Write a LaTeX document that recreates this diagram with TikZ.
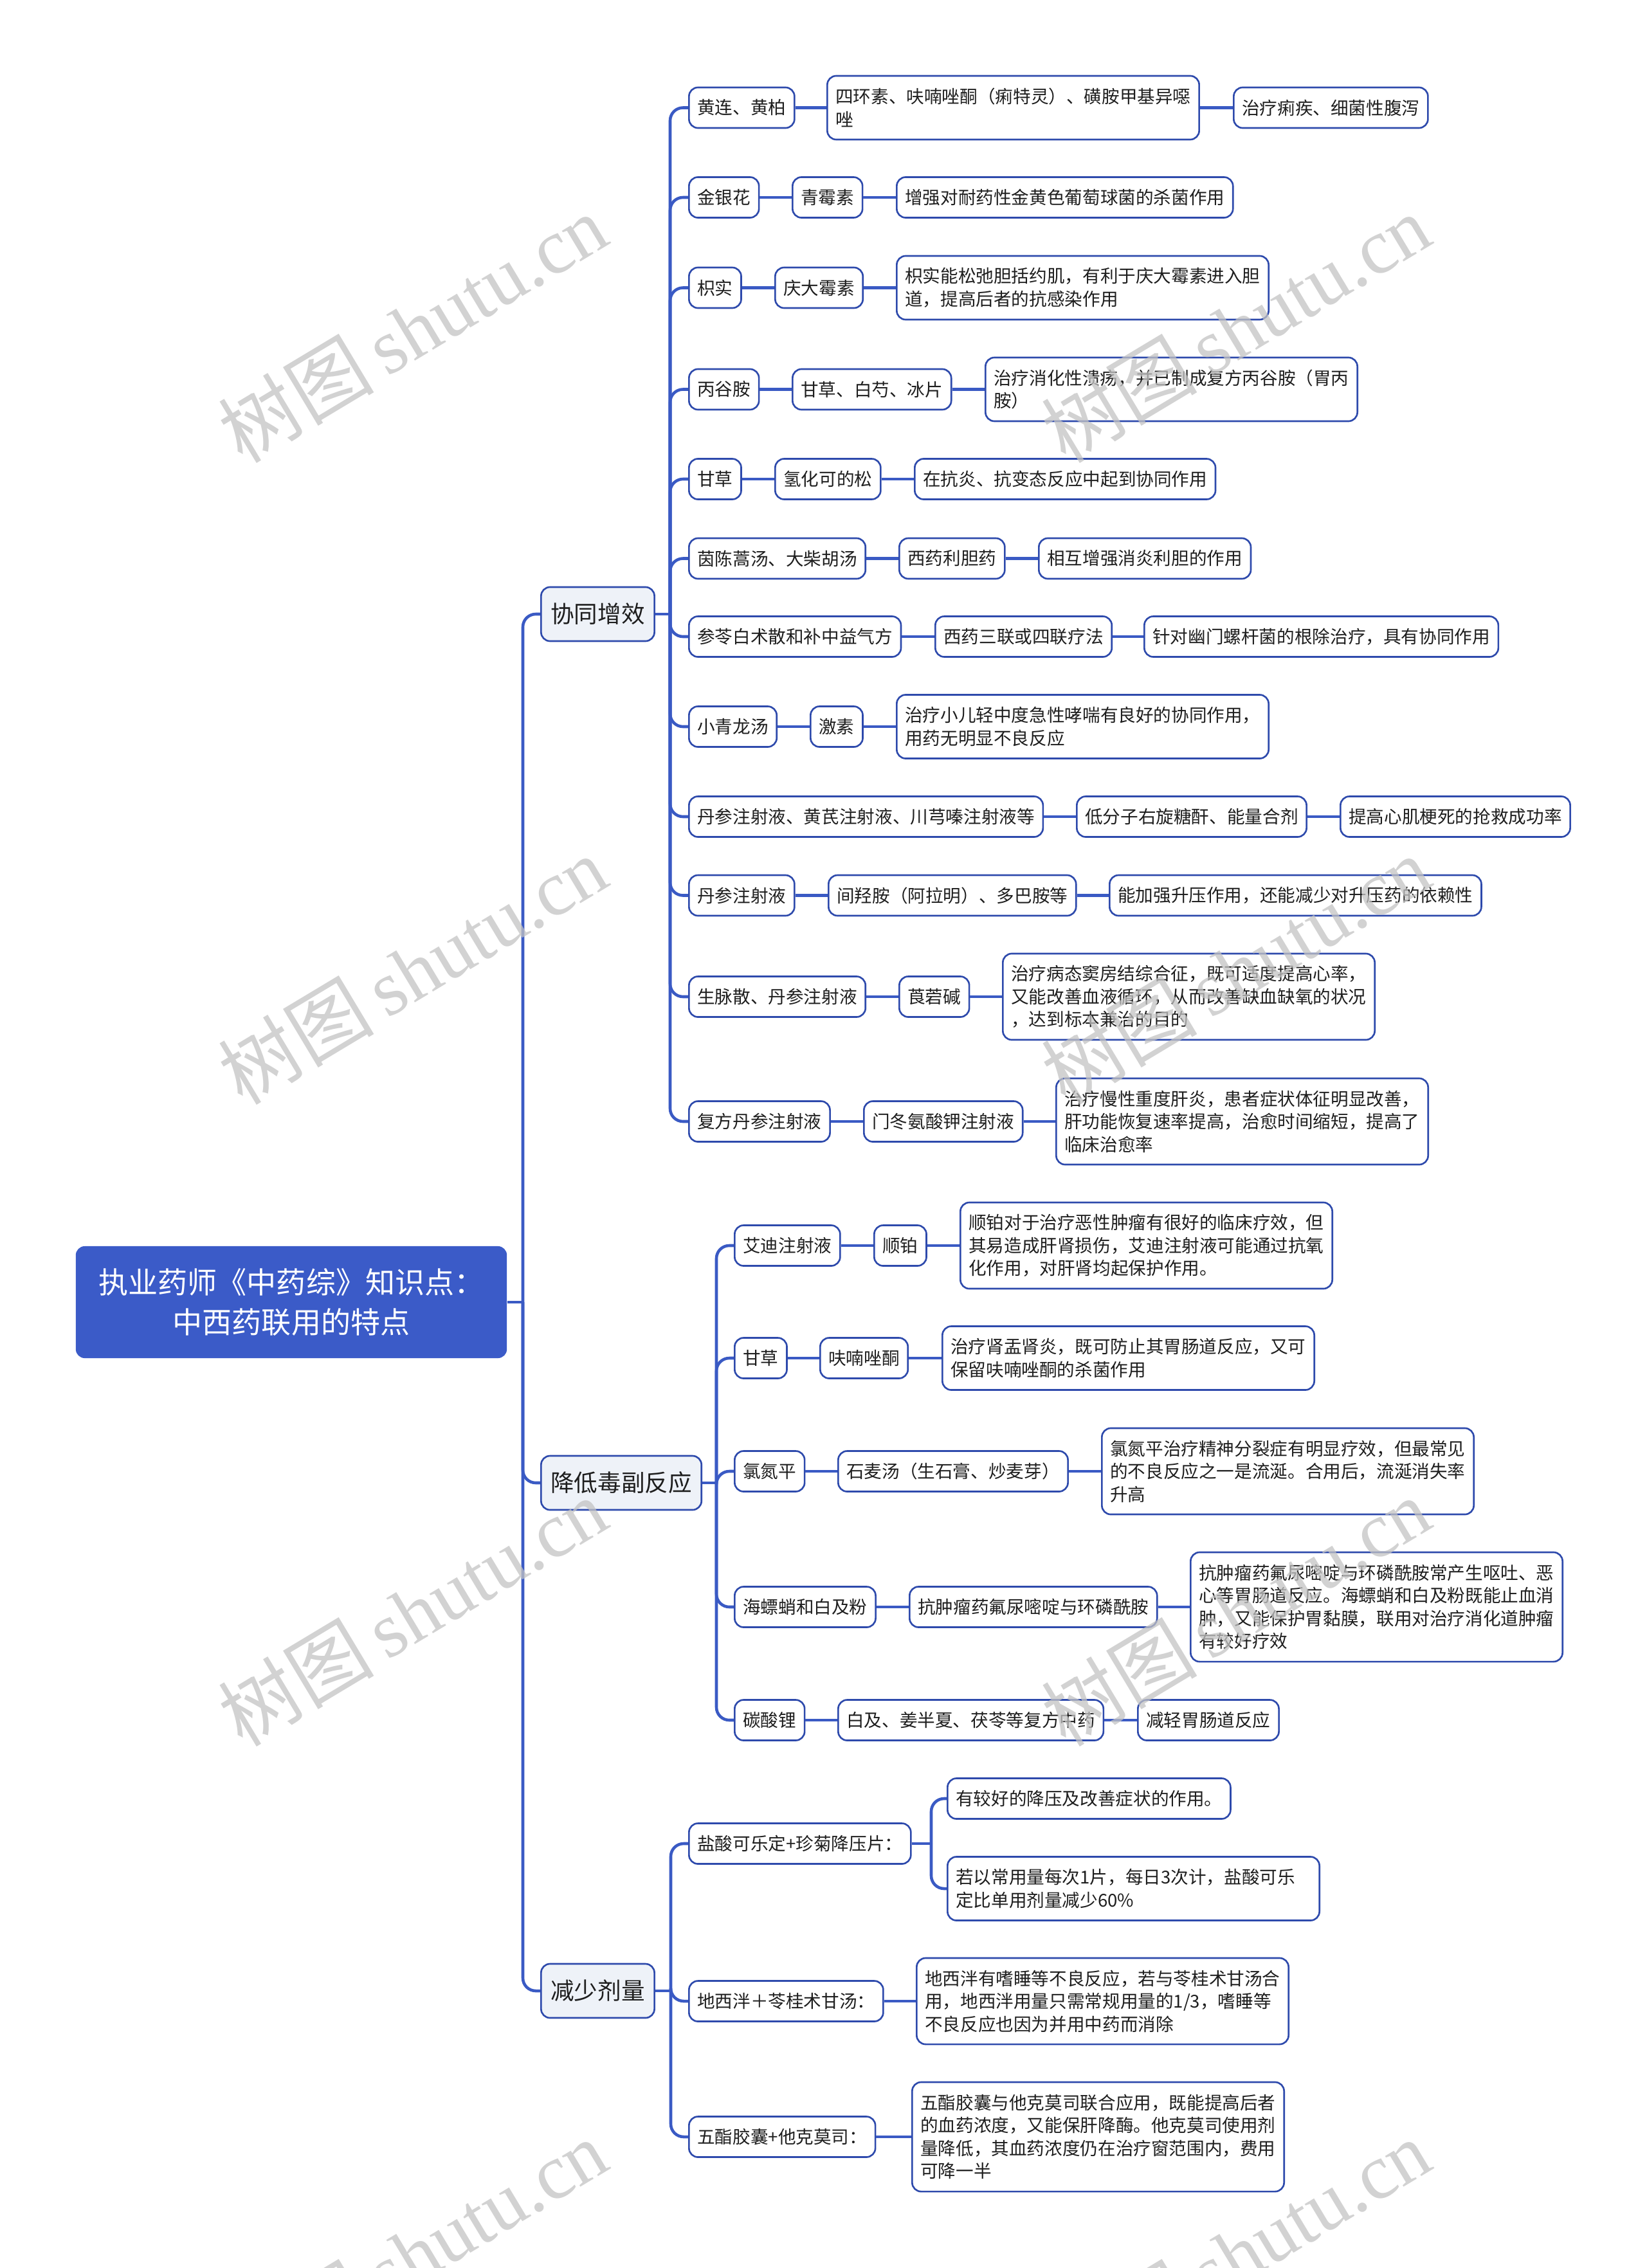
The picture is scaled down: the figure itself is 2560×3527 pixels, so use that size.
\documentclass[tikz,border=0pt]{standalone}
\usepackage{fontspec}
\setmainfont{Noto Sans CJK SC}
\newfontfamily\wmcjk{Noto Sans CJK SC}
\newfontfamily\wmlat{Liberation Serif}
\definecolor{lineblue}{RGB}{58,90,196}
\definecolor{boxborder}{RGB}{46,74,172}
\definecolor{rootfill}{RGB}{59,91,200}
\definecolor{lonefill}{RGB}{238,242,248}
\definecolor{wmgray}{RGB}{195,195,195}
\definecolor{txt}{RGB}{30,30,30}
\tikzset{
 leaf/.style={draw=boxborder, line width=0.75pt, rounded corners=0.14cm, fill=white,
   inner xsep=0.13cm, inner ysep=0pt, minimum height=0.63cm, anchor=west,
   font=\fontsize{7.85pt}{10.1pt}\selectfont, text=txt},
 mbox/.style={leaf, align=left, text width=5.52cm},
 two/.style={minimum height=0.99cm},
 three/.style={minimum height=1.34cm},
 four/.style={minimum height=1.70cm},
 lvl/.style={draw=boxborder, line width=0.75pt, rounded corners=0.14cm, fill=lonefill,
   inner xsep=0.15cm, inner ysep=0pt, minimum height=0.84cm, anchor=west,
   font=\fontsize{10.4pt}{12.5pt}\selectfont, text=txt},
 rootbox/.style={fill=rootfill, rounded corners=0.14cm, text=white, minimum width=6.7cm,
   minimum height=1.74cm, align=center, inner sep=0pt, font=\fontsize{13.1pt}{17.6pt}\selectfont},
 conn/.style={draw=lineblue, line width=1.3pt},
 elbow/.style={conn, rounded corners=0.2cm},
 wmark/.style={text=wmgray, text opacity=0.75, rotate=31, inner sep=0pt},
}
\begin{document}
\begin{tikzpicture}[x=0.01cm, y=-0.01cm]
\useasboundingbox[fill=white] (0,0) rectangle (2560,3527);

% root and level 1
\node[rootbox] (root) at (453,2025) {执业药师《中药综》知识点：\\中西药联用的特点};
\node[lvl] (l1) at (840,955) {协同增效};
\node[lvl] (l2) at (840,2306) {降低毒副反应};
\node[lvl] (l3) at (840,3096) {减少剂量};

% ===== 协同增效 =====
\node[leaf] (a1) at (1070,167.5) {黄连、黄柏};
\node[mbox,two] (b1) at (1285,167.5) {四环素、呋喃唑酮（痢特灵）、磺胺甲基异噁\\唑};
\node[leaf] (c1) at (1917,167.5) {治疗痢疾、细菌性腹泻};

\node[leaf] (a2) at (1070,307) {金银花};
\node[leaf] (b2) at (1231,307) {青霉素};
\node[leaf] (c2) at (1393,307) {增强对耐药性金黄色葡萄球菌的杀菌作用};

\node[leaf] (a3) at (1070,447.5) {枳实};
\node[leaf] (b3) at (1204,447.5) {庆大霉素};
\node[mbox,two] (c3) at (1393,447.5) {枳实能松弛胆括约肌，有利于庆大霉素进入胆\\道，提高后者的抗感染作用};

\node[leaf] (a4) at (1070,605.5) {丙谷胺};
\node[leaf] (b4) at (1231,605.5) {甘草、白芍、冰片};
\node[mbox,two] (c4) at (1531,605.5) {治疗消化性溃疡，并已制成复方丙谷胺（胃丙\\胺）};

\node[leaf] (a5) at (1070,745) {甘草};
\node[leaf] (b5) at (1204,745) {氢化可的松};
\node[leaf] (c5) at (1421,745) {在抗炎、抗变态反应中起到协同作用};

\node[leaf] (a6) at (1070,868.5) {茵陈蒿汤、大柴胡汤};
\node[leaf] (b6) at (1397,868.5) {西药利胆药};
\node[leaf] (c6) at (1614,868.5) {相互增强消炎利胆的作用};

\node[leaf] (a7) at (1070,990) {参苓白术散和补中益气方};
\node[leaf] (b7) at (1453,990) {西药三联或四联疗法};
\node[leaf] (c7) at (1778,990) {针对幽门螺杆菌的根除治疗，具有协同作用};

\node[leaf] (a8) at (1070,1130) {小青龙汤};
\node[leaf] (b8) at (1259,1130) {激素};
\node[mbox,two] (c8) at (1393,1130) {治疗小儿轻中度急性哮喘有良好的协同作用，\\用药无明显不良反应};

\node[leaf] (a9) at (1070,1270) {丹参注射液、黄芪注射液、川芎嗪注射液等};
\node[leaf] (b9) at (1673,1270) {低分子右旋糖酐、能量合剂};
\node[leaf] (c9) at (2083,1270) {提高心肌梗死的抢救成功率};

\node[leaf] (a10) at (1070,1392.5) {丹参注射液};
\node[leaf] (b10) at (1287,1392.5) {间羟胺（阿拉明）、多巴胺等};
\node[leaf] (c10) at (1724,1392.5) {能加强升压作用，还能减少对升压药的依赖性};

\node[leaf] (a11) at (1070,1550) {生脉散、丹参注射液};
\node[leaf] (b11) at (1397,1550) {莨菪碱};
\node[mbox,three] (c11) at (1558,1550) {治疗病态窦房结综合征，既可适度提高心率，\\又能改善血液循环，从而改善缺血缺氧的状况\\，达到标本兼治的目的};

\node[leaf] (a12) at (1070,1744) {复方丹参注射液};
\node[leaf] (b12) at (1342,1744) {门冬氨酸钾注射液};
\node[mbox,three] (c12) at (1641,1744) {治疗慢性重度肝炎，患者症状体征明显改善，\\肝功能恢复速率提高，治愈时间缩短，提高了\\临床治愈率};

% ===== 降低毒副反应 =====
\node[leaf] (d1) at (1141,1937) {艾迪注射液};
\node[leaf] (e1) at (1358,1937) {顺铂};
\node[mbox,three] (f1) at (1492,1937) {顺铂对于治疗恶性肿瘤有很好的临床疗效，但\\其易造成肝肾损伤，艾迪注射液可能通过抗氧\\化作用，对肝肾均起保护作用。};

\node[leaf] (d2) at (1141,2112) {甘草};
\node[leaf] (e2) at (1274,2112) {呋喃唑酮};
\node[mbox,two] (f2) at (1464,2112) {治疗肾盂肾炎，既可防止其胃肠道反应，又可\\保留呋喃唑酮的杀菌作用};

\node[leaf] (d3) at (1141,2288) {氯氮平};
\node[leaf] (e3) at (1302,2288) {石麦汤（生石膏、炒麦芽）};
\node[mbox,three] (f3) at (1712,2288) {氯氮平治疗精神分裂症有明显疗效，但最常见\\的不良反应之一是流涎。合用后，流涎消失率\\升高};

\node[leaf] (d4) at (1141,2499) {海螵蛸和白及粉};
\node[leaf] (e4) at (1413,2499) {抗肿瘤药氟尿嘧啶与环磷酰胺};
\node[mbox,four] (f4) at (1850,2499) {抗肿瘤药氟尿嘧啶与环磷酰胺常产生呕吐、恶\\心等胃肠道反应。海螵蛸和白及粉既能止血消\\肿，又能保护胃黏膜，联用对治疗消化道肿瘤\\有较好疗效};

\node[leaf] (d5) at (1141,2675) {碳酸锂};
\node[leaf] (e5) at (1302,2675) {白及、姜半夏、茯苓等复方中药};
\node[leaf] (f5) at (1768,2675) {减轻胃肠道反应};

% ===== 减少剂量 =====
\node[leaf] (g1) at (1070,2867) {盐酸可乐定+珍菊降压片：};
\node[leaf] (h1) at (1472,2797) {有较好的降压及改善症状的作用。};
\node[mbox,two] (h2) at (1472,2937) {若以常用量每次1片，每日3次计，盐酸可乐\\定比单用剂量减少60\%};

\node[leaf] (g2) at (1070,3112) {地西泮＋苓桂术甘汤：};
\node[mbox,three] (h3) at (1424,3112) {地西泮有嗜睡等不良反应，若与苓桂术甘汤合\\用，地西泮用量只需常规用量的1/3，嗜睡等\\不良反应也因为并用中药而消除};

\node[leaf] (g3) at (1070,3323) {五酯胶囊+他克莫司：};
\node[mbox,four] (h4) at (1417,3323) {五酯胶囊与他克莫司联合应用，既能提高后者\\的血药浓度，又能保肝降酶。他克莫司使用剂\\量降低，其血药浓度仍在治疗窗范围内，费用\\可降一半};

% ===== connectors =====
\coordinate (t0) at (813,2025);
\draw[conn] (root.east) -- (t0);
\foreach \c in {l1,l2,l3} \draw[elbow] (t0) |- (\c.west);

\coordinate (t1) at (1042,955);
\draw[conn] (l1.east) -- (t1);
\foreach \i in {1,...,12} {
  \draw[elbow] (t1) |- (a\i.west);
  \draw[conn] (a\i.east) -- (b\i.west);
  \draw[conn] (b\i.east) -- (c\i.west);
}

\coordinate (t2) at (1114,2306);
\draw[conn] (l2.east) -- (t2);
\foreach \i in {1,...,5} {
  \draw[elbow] (t2) |- (d\i.west);
  \draw[conn] (d\i.east) -- (e\i.west);
  \draw[conn] (e\i.east) -- (f\i.west);
}

\coordinate (t3) at (1043,3096);
\draw[conn] (l3.east) -- (t3);
\foreach \c in {g1,g2,g3} \draw[elbow] (t3) |- (\c.west);

\coordinate (t4) at (1448,2867);
\draw[conn] (g1.east) -- (t4);
\draw[elbow] (t4) |- (h1.west);
\draw[elbow] (t4) |- (h2.west);
\draw[conn] (g2.east) -- (h3.west);
\draw[conn] (g3.east) -- (h4.west);

% ===== watermarks =====
\begin{scope}
\clip (0,0) rectangle (2560,3527);
\foreach \wx in {641,1921} {
  \foreach \wy in {510,1508,2506,3504} {
    \node[wmark] at (\wx,\wy) {\fontsize{34.5pt}{40pt}\selectfont\wmcjk 树图\,{\wmlat shutu.cn}};
  }
}
\end{scope}
\end{tikzpicture}
\end{document}
